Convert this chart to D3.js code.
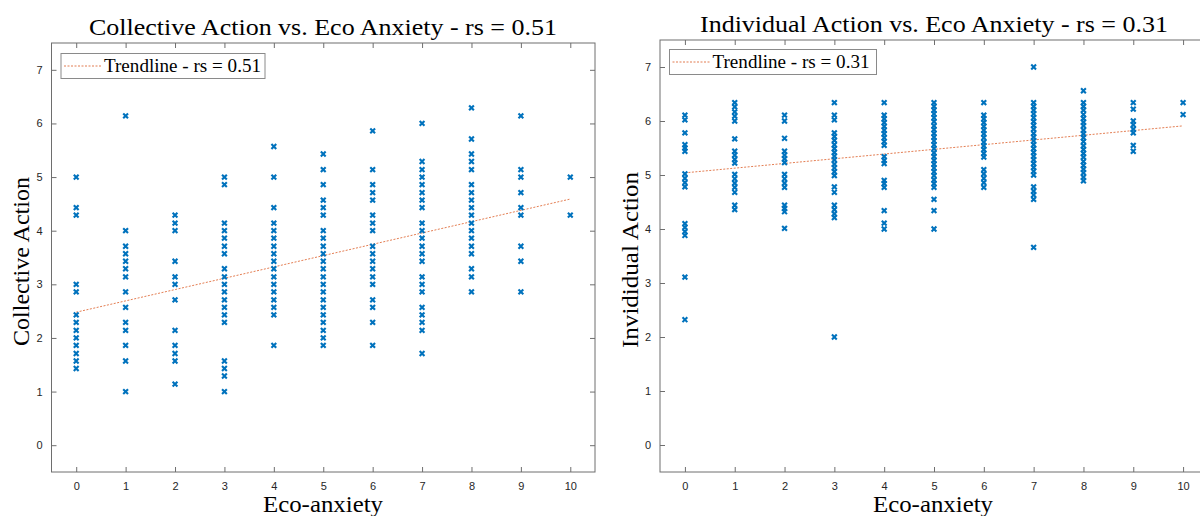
<!DOCTYPE html>
<html>
<head>
<meta charset="utf-8">
<script src="https://cdn.jsdelivr.net/npm/d3@7/dist/d3.min.js"></script>
<style>
  html, body { margin: 0; padding: 0; background: #fff; }
  svg { display: block; }
</style>
</head>
<body>
<svg id="chart" width="1200" height="516"></svg>
<script>
// ---------------- DATA ----------------
const anxietyLevels = [0, 1, 2, 3, 4, 5, 6, 7, 8, 9, 10];
const xTickLabels = ["0","1","2","3","4","5","6","7","8","9","10"];
const yTickLabels = ["0","1","2","3","4","5","6","7"];

// Collective Action values per Eco-anxiety level (0..10)
const collectiveAction = [
  [5.00, 4.43, 4.29, 3.00, 2.86, 2.43, 2.29, 2.14, 2.00, 1.86, 1.71, 1.57, 1.43],
  [6.14, 4.00, 3.71, 3.57, 3.43, 3.29, 3.14, 2.86, 2.57, 2.29, 2.14, 1.86, 1.57, 1.00],
  [4.29, 4.14, 4.00, 3.43, 3.14, 3.00, 2.71, 2.14, 1.86, 1.71, 1.57, 1.14],
  [5.00, 4.86, 4.14, 4.00, 3.86, 3.71, 3.57, 3.29, 3.14, 3.00, 2.86, 2.71, 2.57, 2.43, 2.29, 1.57, 1.43, 1.29, 1.00],
  [5.57, 5.00, 4.43, 4.14, 4.00, 3.86, 3.71, 3.57, 3.43, 3.29, 3.14, 3.00, 2.86, 2.71, 2.57, 2.43, 1.86],
  [5.43, 5.14, 4.86, 4.57, 4.43, 4.29, 4.00, 3.86, 3.71, 3.57, 3.43, 3.29, 3.14, 3.00, 2.86, 2.71, 2.57, 2.43, 2.29, 2.14, 2.00, 1.86],
  [5.86, 5.14, 4.86, 4.71, 4.57, 4.29, 4.14, 4.00, 3.71, 3.57, 3.43, 3.29, 3.14, 3.00, 2.71, 2.57, 2.29, 1.86],
  [6.00, 5.29, 5.14, 5.00, 4.86, 4.71, 4.57, 4.43, 4.14, 4.00, 3.86, 3.71, 3.57, 3.43, 3.14, 3.00, 2.86, 2.57, 2.43, 2.29, 2.14, 1.71],
  [6.29, 5.71, 5.43, 5.29, 5.14, 4.86, 4.71, 4.57, 4.43, 4.29, 4.14, 4.00, 3.86, 3.71, 3.57, 3.29, 3.14, 2.86],
  [6.14, 5.14, 5.00, 4.71, 4.43, 4.29, 3.71, 3.43, 2.86],
  [5.00, 4.29]
];

// Individual Action values per Eco-anxiety level (0..10)
const individualAction = [
  [6.11, 6.02, 5.78, 5.56, 5.50, 5.44, 5.02, 4.94, 4.86, 4.78, 4.10, 4.03, 3.95, 3.88, 3.11, 2.32],
  [6.34, 6.26, 6.17, 6.09, 6.00, 5.67, 5.44, 5.37, 5.29, 5.22, 5.01, 4.93, 4.85, 4.77, 4.68, 4.44, 4.36],
  [6.11, 6.00, 5.68, 5.44, 5.37, 5.30, 5.23, 5.01, 4.93, 4.85, 4.77, 4.44, 4.38, 4.32, 4.01],
  [6.34, 6.11, 6.02, 5.78, 5.71, 5.64, 5.56, 5.49, 5.42, 5.35, 5.28, 5.20, 5.13, 5.06, 4.99, 4.78, 4.68, 4.44, 4.36, 4.28, 4.21, 2.00],
  [6.34, 6.11, 6.04, 5.97, 5.90, 5.83, 5.76, 5.69, 5.62, 5.55, 5.34, 5.27, 5.21, 4.90, 4.84, 4.77, 4.34, 4.11, 4.00],
  [6.34, 6.27, 6.20, 6.13, 6.06, 5.99, 5.91, 5.84, 5.77, 5.70, 5.63, 5.56, 5.49, 5.41, 5.34, 5.27, 5.20, 5.13, 5.06, 4.99, 4.91, 4.84, 4.77, 4.55, 4.34, 4.00],
  [6.34, 6.11, 6.04, 5.97, 5.90, 5.83, 5.76, 5.69, 5.61, 5.54, 5.47, 5.40, 5.33, 5.10, 5.02, 4.94, 4.86, 4.77],
  [7.00, 6.34, 6.27, 6.20, 6.13, 6.06, 5.99, 5.92, 5.85, 5.77, 5.70, 5.63, 5.56, 5.49, 5.42, 5.35, 5.28, 5.21, 5.14, 5.07, 5.00, 4.78, 4.70, 4.63, 4.55, 3.66],
  [6.56, 6.34, 6.27, 6.20, 6.12, 6.05, 5.98, 5.91, 5.83, 5.76, 5.69, 5.62, 5.54, 5.47, 5.40, 5.33, 5.25, 5.18, 5.11, 5.04, 4.96, 4.89],
  [6.34, 6.22, 6.00, 5.93, 5.85, 5.78, 5.55, 5.44],
  [6.34, 6.12]
];

// Trendline endpoints (x = 0 and x = 10)
const collectiveTrend = [[0, 2.48], [10, 4.59]];
const individualTrend = [[0, 5.04], [10, 5.91]];

const panels = [
  { title: "Collective Action vs. Eco Anxiety - rs = 0.51", ylabel: "Collective Action",
    legend: "Trendline - rs = 0.51", values: collectiveAction, trend: collectiveTrend,
    x0: 51.5, x1: 595, y0: 43, y1: 472, titleX: 323, titleY: 35, ylabX: 29, ylabW: 169,
    xlabX: 323, legX: 61, legY: 53.5, legW: 204, legH: 25 },
  { title: "Individual Action vs. Eco Anxiety - rs = 0.31", ylabel: "Invididual Action",
    legend: "Trendline - rs = 0.31", values: individualAction, trend: individualTrend,
    x0: 660, x1: 1208, y0: 40, y1: 472, titleX: 934, titleY: 32, ylabX: 638, ylabW: 176,
    xlabX: 933, legX: 669.5, legY: 49.5, legW: 207, legH: 25 }
];

// ---------------- DRAW ----------------
const svg = d3.select("#chart");
const serif = "'Liberation Serif', 'DejaVu Serif', serif";
const sans = "'Liberation Sans', Arial, Helvetica, sans-serif";
const axisColor = "#6e6e6e";
const textColor = "#262626";

panels.forEach(p => {
  const x = d3.scaleLinear().domain([-0.5, 10.5]).range([p.x0, p.x1]);
  const y = d3.scaleLinear().domain([-0.5, 7.5]).range([p.y1, p.y0]);
  const g = svg.append("g");

  // Frame
  g.append("rect").attr("x", p.x0).attr("y", p.y0)
    .attr("width", p.x1 - p.x0).attr("height", p.y1 - p.y0)
    .attr("fill", "none").attr("stroke", axisColor).attr("stroke-width", 1);

  const tickLen = 5;
  const xAxis = d3.axisBottom(x).tickValues(anxietyLevels)
    .tickFormat((d, i) => xTickLabels[i]).tickSizeInner(-tickLen).tickSizeOuter(0).tickPadding(10);
  const gx = g.append("g").attr("transform", `translate(0,${p.y1})`).call(xAxis);
  const gxt = g.append("g").attr("transform", `translate(0,${p.y0})`)
    .call(d3.axisTop(x).tickValues(anxietyLevels).tickFormat("").tickSizeInner(-tickLen).tickSizeOuter(0));
  const yAxis = d3.axisLeft(y).tickValues(yTickLabels.map(Number))
    .tickFormat((d, i) => yTickLabels[i]).tickSizeInner(-tickLen).tickSizeOuter(0).tickPadding(9);
  const gy = g.append("g").attr("transform", `translate(${p.x0},0)`).call(yAxis);
  const gyr = g.append("g").attr("transform", `translate(${p.x1},0)`)
    .call(d3.axisRight(y).tickValues(yTickLabels.map(Number)).tickFormat("").tickSizeInner(-tickLen).tickSizeOuter(0));

  [gx, gxt, gy, gyr].forEach(a => {
    a.select(".domain").remove();
    a.selectAll(".tick line").attr("stroke", axisColor);
    a.selectAll(".tick text").attr("fill", textColor)
      .style("font-family", sans).style("font-size", "11px");
  });

  // Trendline
  const line = d3.line().x(d => x(d[0])).y(d => y(d[1]));
  g.append("path").datum(p.trend).attr("d", line)
    .attr("fill", "none").attr("stroke", "#D95319").attr("stroke-width", 1)
    .attr("stroke-dasharray", "2,1.5").attr("opacity", 0.75);

  // Scatter markers ('x')
  const pts = [];
  p.values.forEach((col, i) => col.forEach(v => pts.push([anxietyLevels[i], v])));
  const s = 2.4;
  g.append("g").selectAll("path").data(pts).join("path")
    .attr("d", d => {
      const cx = x(d[0]), cy = y(d[1]);
      return `M${cx - s},${cy - s}L${cx + s},${cy + s}M${cx - s},${cy + s}L${cx + s},${cy - s}`;
    })
    .attr("stroke", "#0072BD").attr("stroke-width", 2.1).attr("fill", "none");

  // Legend
  const lg = g.append("g");
  lg.append("rect").attr("x", p.legX).attr("y", p.legY).attr("width", p.legW).attr("height", p.legH)
    .attr("fill", "#fff").attr("stroke", "#8a8a8a").attr("stroke-width", 1);
  lg.append("line").attr("x1", p.legX + 3).attr("x2", p.legX + 40)
    .attr("y1", p.legY + p.legH / 2).attr("y2", p.legY + p.legH / 2)
    .attr("stroke", "#D95319").attr("stroke-width", 1).attr("stroke-dasharray", "2,1.5").attr("opacity", 0.75);
  lg.append("text").attr("x", p.legX + 43).attr("y", p.legY + p.legH / 2 + 6)
    .attr("fill", "#000").style("font-family", serif).style("font-size", "18px")
    .attr("textLength", 157).attr("lengthAdjust", "spacingAndGlyphs")
    .text(p.legend);

  // Title
  g.append("text").attr("x", p.titleX).attr("y", p.titleY)
    .attr("text-anchor", "middle").attr("fill", "#000")
    .style("font-family", serif).style("font-size", "24px")
    .attr("textLength", 468).attr("lengthAdjust", "spacingAndGlyphs").text(p.title);

  // X label
  g.append("text").attr("x", p.xlabX).attr("y", 512)
    .attr("text-anchor", "middle").attr("fill", "#000")
    .style("font-family", serif).style("font-size", "23px")
    .attr("textLength", 120).attr("lengthAdjust", "spacingAndGlyphs").text("Eco-anxiety");

  // Y label
  g.append("text").attr("transform", `translate(${p.ylabX},${(p.y0 + p.y1) / 2 + 4}) rotate(-90)`)
    .attr("text-anchor", "middle").attr("fill", "#000")
    .style("font-family", serif).style("font-size", "23px")
    .attr("textLength", p.ylabW).attr("lengthAdjust", "spacingAndGlyphs").text(p.ylabel);
});
</script>
</body>
</html>
